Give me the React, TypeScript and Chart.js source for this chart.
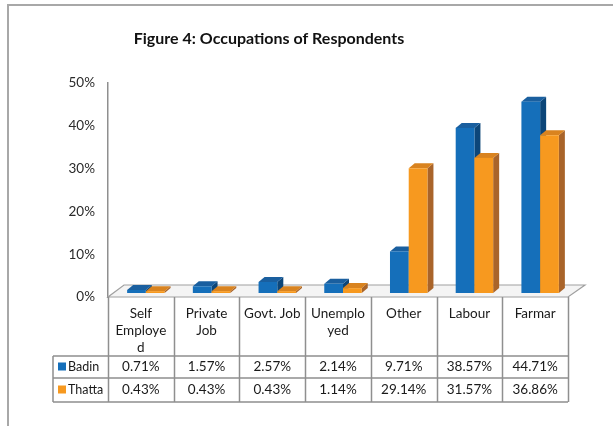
import React, { useEffect, useRef } from "react";
import { Chart, registerables } from "chart.js";

Chart.register(...registerables);

const categories: string[][] = [
  ["Self", "Employe", "d"],
  ["Private", "Job"],
  ["Govt. Job"],
  ["Unemplo", "yed"],
  ["Other"],
  ["Labour"],
  ["Farmar"],
];
const seriesNames = ["Badin", "Thatta"];
const badin = [0.71, 1.57, 2.57, 2.14, 9.71, 38.57, 44.71];
const thatta = [0.43, 0.43, 0.43, 1.14, 29.14, 31.57, 36.86];
const yTickMin = 0;
const yTickMax = 50;
const yTickStep = 10;

const FONT = "Lato, 'Open Sans', sans-serif";
const GRID = "#8f8f8f";
const TEXT_SIZE = 13.5;
const faces = [
  { front: "#156fba", top: "#1a5f9f", side: "#0c4679" },
  { front: "#f7991f", top: "#d9831f", side: "#a9642a" },
];

const threeD = {
  id: "threeD",
  beforeDraw(chart: any) {
    const ctx = chart.ctx;
    ctx.save();
    ctx.fillStyle = "#ffffff";
    ctx.fillRect(0, 0, chart.width, chart.height);
    ctx.strokeStyle = "#a8a8a8";
    ctx.lineWidth = 2;
    ctx.beginPath();
    ctx.moveTo(chart.width, 5);
    ctx.lineTo(8, 5);
    ctx.lineTo(8, chart.height);
    ctx.stroke();
    ctx.fillStyle = "#111";
    ctx.font = `bold 16px ${FONT}`;
    ctx.textAlign = "center";
    ctx.textBaseline = "middle";
    ctx.fillText("Figure 4: Occupations of Respondents", 269, 39);
    ctx.restore();
  },
  beforeDatasetsDraw(chart: any) {
    const ctx = chart.ctx;
    const { left, right, bottom } = chart.chartArea;
    ctx.save();
    ctx.fillStyle = "#f4f4f4";
    ctx.strokeStyle = "#a0a0a0";
    ctx.lineWidth = 1.2;
    ctx.beginPath();
    ctx.moveTo(left, bottom);
    ctx.lineTo(right, bottom);
    ctx.lineTo(right + 17, bottom - 12);
    ctx.lineTo(left + 16, bottom - 12);
    ctx.closePath();
    ctx.fill();
    ctx.stroke();
    ctx.restore();
  },
  afterDatasetsDraw(chart: any) {
    const ctx = chart.ctx;
    const offX = 5;
    const offY = -4;
    const dX = 6;
    const dY = -5;
    ctx.save();
    const n = chart.data.labels.length;
    for (let i = 0; i < n; i++) {
      chart.data.datasets.forEach((_: any, di: number) => {
        const el = chart.getDatasetMeta(di).data[i];
        const w = el.width;
        const x0 = el.x - w / 2 + offX;
        const x1 = el.x + w / 2 + offX;
        const yt = el.y + offY;
        const yb = el.base + offY;
        const c = faces[di];
        ctx.fillStyle = c.side;
        ctx.beginPath();
        ctx.moveTo(x1, yb);
        ctx.lineTo(x1 + dX, yb + dY);
        ctx.lineTo(x1 + dX, yt + dY);
        ctx.lineTo(x1, yt);
        ctx.closePath();
        ctx.fill();
        ctx.fillStyle = c.top;
        ctx.beginPath();
        ctx.moveTo(x0, yt);
        ctx.lineTo(x0 + dX, yt + dY);
        ctx.lineTo(x1 + dX, yt + dY);
        ctx.lineTo(x1, yt);
        ctx.closePath();
        ctx.fill();
        ctx.fillStyle = c.front;
        ctx.fillRect(x0, yt, x1 - x0, yb - yt);
      });
    }
    ctx.restore();
  },
  afterDraw(chart: any) {
    const ctx = chart.ctx;
    const xs = chart.scales.x;
    const { left, right, bottom } = chart.chartArea;
    const n = chart.data.labels.length;
    const colW = (right - left) / n;
    const headerBottom = bottom + 59;
    const row1Bottom = headerBottom + 22;
    const row2Bottom = row1Bottom + 24;
    const legendLeft = 53;
    ctx.save();
    ctx.strokeStyle = GRID;
    ctx.lineWidth = 1.5;
    ctx.beginPath();
    for (let i = 0; i <= n; i++) {
      const x = Math.round(left + i * colW) + 0.5;
      ctx.moveTo(x, bottom);
      ctx.lineTo(x, row2Bottom);
    }
    ctx.moveTo(legendLeft, headerBottom);
    ctx.lineTo(legendLeft, row2Bottom);
    [headerBottom, row1Bottom, row2Bottom].forEach((y) => {
      ctx.moveTo(legendLeft, y);
      ctx.lineTo(right, y);
    });
    ctx.stroke();

    ctx.fillStyle = "#1a1a1a";
    ctx.font = `${TEXT_SIZE}px ${FONT}`;
    ctx.textAlign = "center";
    ctx.textBaseline = "middle";
    for (let i = 0; i < n; i++) {
      const cx = xs.getPixelForValue(i);
      const lines = categories[i];
      lines.forEach((t, li) => ctx.fillText(t, cx, bottom + 17 + li * 17));
      ctx.fillText(badin[i].toFixed(2) + "%", cx, headerBottom + 11);
      ctx.fillText(thatta[i].toFixed(2) + "%", cx, row1Bottom + 12);
    }
    const rowsY = [headerBottom + 11, row1Bottom + 12];
    ctx.font = `12.5px ${FONT}`;
    seriesNames.forEach((name, si) => {
      ctx.fillStyle = faces[si].front;
      ctx.fillRect(58, rowsY[si] - 4.5, 8, 8);
      ctx.fillStyle = "#1a1a1a";
      ctx.textAlign = "left";
      ctx.fillText(name, 68, rowsY[si]);
    });
    ctx.restore();
  },
};

export default function App() {
  const ref = useRef<HTMLCanvasElement>(null);
  useEffect(() => {
    if (!ref.current) return;
    const chart = new Chart(ref.current, {
      type: "bar",
      data: {
        labels: categories.map((c) => c.join("")),
        datasets: [
          { label: seriesNames[0], data: badin, backgroundColor: "rgba(0,0,0,0)" },
          { label: seriesNames[1], data: thatta, backgroundColor: "rgba(0,0,0,0)" },
        ],
      },
      options: {
        responsive: false,
        animation: false,
        layout: { padding: { left: 0, right: 45, top: 83, bottom: 129 } },
        datasets: { bar: { categoryPercentage: 0.57, barPercentage: 1 } },
        plugins: { legend: { display: false }, tooltip: { enabled: false }, title: { display: false } },
        scales: {
          x: { display: false, grid: { display: false } },
          y: {
            min: yTickMin,
            max: yTickMax,
            ticks: {
              stepSize: yTickStep,
              callback: (v: any) => v + "%",
              font: { family: FONT, size: TEXT_SIZE },
              color: "#2a2a2a",
              padding: 13,
            },
            grid: { display: false, drawTicks: false },
            border: { display: true, color: GRID, width: 1.5 },
            afterFit: (scale: any) => {
              scale.width = 108;
            },
          },
        },
      },
      plugins: [threeD],
    });
    return () => chart.destroy();
  }, []);
  return (
    <div style={{ position: "fixed", left: 0, top: 0, width: 613, height: 426 }}>
      <canvas ref={ref} width={613} height={426} style={{ display: "block", width: 613, height: 426 }} />
    </div>
  );
}
